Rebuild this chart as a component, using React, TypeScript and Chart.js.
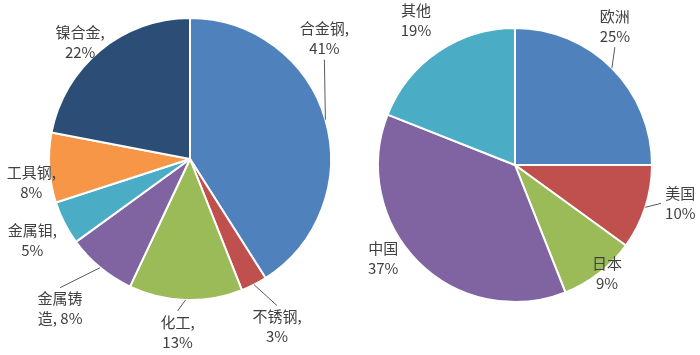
import { useEffect, useRef } from "react";
import { Chart, registerables } from "chart.js";

Chart.register(...registerables);

// ---------- data ----------
const leftCategories = ["合金钢", "不锈钢", "化工", "金属铸造", "金属钼", "工具钢", "镍合金"];
const leftValues = [41, 3, 13, 8, 5, 8, 22];
const rightCategories = ["欧洲", "美国", "日本", "中国", "其他"];
const rightValues = [25, 10, 9, 37, 19];

// ---------- styles ----------
const leftColors = ["#4F81BD", "#C0504D", "#9BBB59", "#8064A2", "#4BACC6", "#F79646", "#2C4D75"];
const rightColors = ["#4F81BD", "#C0504D", "#9BBB59", "#8064A2", "#4BACC6"];
// label centre offset from the slice's outer mid-point, and leader-line flag
const leftLabelOffsets = [[-1, -81], [23, 42], [-8, 32], [-40, 41], [-32, 17], [-18, 14], [-20, -8]];
const leftLeaders = [true, true, true, true, false, false, false];
const rightLabelOffsets = [[3, -42], [35, -4], [8, 0], [-35, -4], [-22, -31]];
const rightLeaders = [true, true, false, false, false];

const FONT = '15px "Noto Sans CJK SC", "Microsoft YaHei", sans-serif';
const LINE_H = 20;
const TEXT_COLOR = "#404040";
const LEADER_COLOR = "#595959";

function wrap(ctx: CanvasRenderingContext2D, text: string, maxW: number): string[] {
  const words = text.split(" ");
  const out: string[] = [];
  let cur = "";
  for (const w of words) {
    const cand = cur ? cur + " " + w : w;
    if (ctx.measureText(cand).width <= maxW) {
      cur = cand;
      continue;
    }
    if (cur) {
      out.push(cur);
      cur = "";
    }
    let piece = "";
    for (const ch of Array.from(w)) {
      if (piece && ctx.measureText(piece + ch).width > maxW) {
        out.push(piece);
        piece = ch;
      } else piece += ch;
    }
    cur = piece;
  }
  if (cur) out.push(cur);
  return out;
}

function makeLabelPlugin(
  getLines: (ctx: CanvasRenderingContext2D, i: number) => string[],
  offsets: number[][],
  leaders: boolean[]
) {
  return {
    id: "outLabels",
    afterDatasetsDraw(chart: any) {
      const ctx: CanvasRenderingContext2D = chart.ctx;
      const meta = chart.getDatasetMeta(0);
      ctx.save();
      ctx.font = FONT;
      ctx.textAlign = "center";
      ctx.textBaseline = "middle";
      meta.data.forEach((arc: any, i: number) => {
        const { x, y, startAngle, endAngle, outerRadius } = arc.getProps(
          ["x", "y", "startAngle", "endAngle", "outerRadius"],
          true
        );
        const mid = (startAngle + endAngle) / 2;
        const px = x + Math.cos(mid) * outerRadius;
        const py = y + Math.sin(mid) * outerRadius;
        const lines = getLines(ctx, i);
        const cx = px + offsets[i][0];
        const cy = py + offsets[i][1];
        const h = lines.length * LINE_H;
        const w = Math.max(...lines.map((l) => ctx.measureText(l).width));
        const top = cy - h / 2;
        const bottom = cy + h / 2;
        const left = cx - w / 2;
        const right = cx + w / 2;
        if (leaders[i]) {
          let ex: number, ey: number;
          if (py > bottom) {
            ex = cx;
            ey = bottom + 1;
          } else if (py < top) {
            ex = cx;
            ey = top - 1;
          } else if (px < left) {
            ex = left - 4;
            ey = cy;
          } else {
            ex = right + 4;
            ey = cy;
          }
          ctx.strokeStyle = LEADER_COLOR;
          ctx.lineWidth = 1;
          ctx.beginPath();
          ctx.moveTo(px, py);
          ctx.lineTo(ex, ey);
          ctx.stroke();
        }
        ctx.fillStyle = TEXT_COLOR;
        lines.forEach((l, k) => ctx.fillText(l, cx, top + LINE_H * (k + 0.5)));
      });
      ctx.restore();
    },
  };
}

function makePie(
  canvas: HTMLCanvasElement,
  labels: string[],
  values: number[],
  colors: string[],
  padding: { left: number; right: number; top: number; bottom: number },
  plugin: any
) {
  return new Chart(canvas, {
    type: "pie",
    data: {
      labels,
      datasets: [
        {
          data: values,
          backgroundColor: colors,
          borderColor: "#ffffff",
          borderWidth: 2,
          hoverOffset: 0,
          hoverBorderWidth: 0,
        },
      ],
    },
    options: {
      responsive: false,
      animation: false,
      layout: { padding },
      plugins: {
        legend: { display: false },
        tooltip: { enabled: false },
      },
      events: [],
    },
    plugins: [plugin],
  });
}

export default function App() {
  const leftRef = useRef<HTMLCanvasElement>(null);
  const rightRef = useRef<HTMLCanvasElement>(null);

  useEffect(() => {
    const leftPlugin = makeLabelPlugin(
      (ctx, i) => wrap(ctx, `${leftCategories[i]}, ${leftValues[i]}%`, 56),
      leftLabelOffsets,
      leftLeaders
    );
    const rightPlugin = makeLabelPlugin(
      (_ctx, i) => [rightCategories[i], `${rightValues[i]}%`],
      rightLabelOffsets,
      rightLeaders
    );
    const c1 = makePie(
      leftRef.current!,
      leftCategories,
      leftValues,
      leftColors,
      { left: 48, right: 368, top: 17, bottom: 54 },
      leftPlugin
    );
    const c2 = makePie(
      rightRef.current!,
      rightCategories,
      rightValues,
      rightColors,
      { left: 377, right: 47, top: 27, bottom: 52 },
      rightPlugin
    );
    return () => {
      c1.destroy();
      c2.destroy();
    };
  }, []);

  const style: React.CSSProperties = { position: "absolute", left: 0, top: 0 };
  return (
    <div style={{ position: "fixed", left: 0, top: 0, width: 700, height: 355, background: "#fff" }}>
      <canvas ref={leftRef} width={700} height={355} style={style} />
      <canvas ref={rightRef} width={700} height={355} style={style} />
    </div>
  );
}
